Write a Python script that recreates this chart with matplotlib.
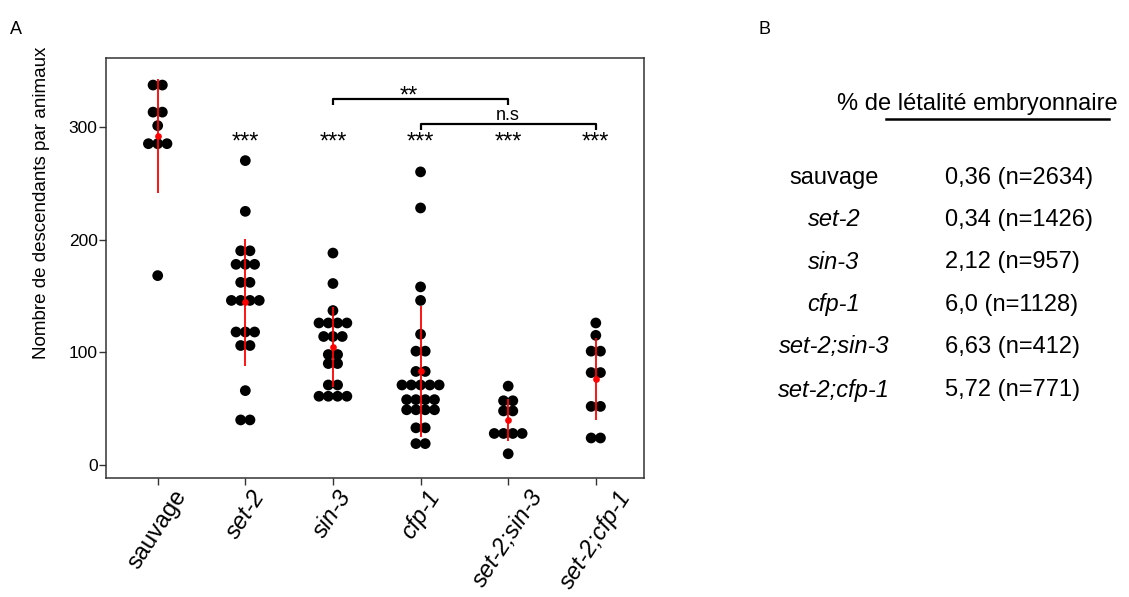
import numpy as np
import matplotlib
matplotlib.use("Agg")
import matplotlib.pyplot as plt

plt.rcParams['font.family'] = ['Liberation Sans', 'DejaVu Sans']

# ---------------- data ----------------
categories = ["sauvage", "set-2", "sin-3", "cfp-1", "set-2;sin-3", "set-2;cfp-1"]
sauvage = [337, 337, 313, 313, 301, 285, 285, 285, 168]
set2 = [270, 225, 190, 190, 178, 178, 178, 162, 162, 146, 146, 146, 146,
        118, 118, 118, 106, 106, 66, 40, 40]
sin3 = [188, 161, 137, 126, 126, 126, 126, 114, 114, 114, 98, 98, 90, 90,
        71, 71, 61, 61, 61, 61]
cfp1 = [260, 228, 158, 146, 116, 101, 101, 83, 83, 71, 71, 71, 71, 71,
        58, 58, 58, 58, 49, 49, 49, 49, 33, 33, 19, 19]
set2sin3 = [70, 57, 57, 48, 48, 28, 28, 28, 28, 10]
set2cfp1 = [126, 115, 101, 101, 82, 82, 52, 52, 24, 24]
series = [sauvage, set2, sin3, cfp1, set2sin3, set2cfp1]

stars = ["", "***", "***", "***", "***", "***"]
yticks = [0, 100, 200, 300]

table_labels = ["sauvage", "set-2", "sin-3", "cfp-1", "set-2;sin-3", "set-2;cfp-1"]
table_values = ["0,36 (n=2634)", "0,34 (n=1426)", "2,12 (n=957)",
                "6,0 (n=1128)", "6,63 (n=412)", "5,72 (n=771)"]
table_title = "% de létalité embryonnaire"

# ---------------- figure ----------------
W, H = 1129, 597
fig = plt.figure(figsize=(W / 100, H / 100), dpi=100)
ax = fig.add_axes([106 / W, 1 - 478 / H, (644 - 106) / W, (478 - 58) / H])

step = 0.106
for i, vals in enumerate(series):
    vals = np.asarray(vals, dtype=float)
    xs = np.zeros_like(vals)
    for u in np.unique(vals):
        idx = np.where(vals == u)[0]
        n = len(idx)
        xs[idx] = (np.arange(n) - (n - 1) / 2) * step
    ax.scatter(i + xs, vals, s=60, color='black', edgecolors='none', zorder=2)
    m = vals.mean()
    sd = vals.std(ddof=1)
    ax.errorbar([i], [m], yerr=[sd], fmt='o', color='red', ms=3.8,
                elinewidth=1.3, capsize=0, zorder=3)
    if stars[i]:
        ax.text(i, 286, stars[i], ha='center', va='center', fontsize=17)

# brackets
def bracket(x1, x2, y, drop, label, lx, ly, fs):
    ax.plot([x1, x1, x2, x2], [y - drop, y, y, y - drop], color='black',
            lw=1.6, zorder=4, solid_capstyle='butt', clip_on=False)
    ax.text(lx, ly, label, ha='center', va='center', fontsize=fs)

bracket(2, 4, 324.5, 5, "**", 2.87, 327, 17)
bracket(3, 5, 302.5, 5, "n.s", 4.0, 310, 13)

ax.set_xlim(-0.59, 5.55)
ax.set_ylim(-11.5, 361)
ax.set_yticks(yticks)
ax.set_yticklabels([str(v) for v in yticks], fontsize=12.5)
ax.set_xticks(range(len(categories)))
ax.set_xticklabels(categories, rotation=57, fontsize=17)
for lab in ax.get_xticklabels():
    if lab.get_text() != "sauvage":
        lab.set_fontstyle('italic')
ax.tick_params(axis='both', direction='out', length=5, width=1.0, color='#333333')
ax.tick_params(axis='x', pad=1)
ax.tick_params(axis='y', pad=1)
for sp in ax.spines.values():
    sp.set_linewidth(1.1)
    sp.set_color('#333333')
ax.set_ylabel("Nombre de descendants par animaux", fontsize=13.5)
ax.yaxis.set_label_coords(-0.105, (478 - 203) / (478 - 58))

# panel letters
fig.text(10 / W, 1 - 30 / H, "A", fontsize=13, ha='left', va='center')
fig.text(758 / W, 1 - 30 / H, "B", fontsize=13, ha='left', va='center')

# panel B table
fig.text(837 / W, 1 - 104 / H, table_title, fontsize=17, ha='left', va='center')
fig.add_artist(plt.Line2D([886 / W, 1109 / W], [1 - 119 / H, 1 - 119 / H],
                          color='black', lw=1.8, transform=fig.transFigure))
row_y = [178, 220, 262, 305, 347, 390]
for lab, val, yy in zip(table_labels, table_values, row_y):
    style = 'normal' if lab == "sauvage" else 'italic'
    fig.text(834 / W, 1 - yy / H, lab, fontsize=17, ha='center', va='center',
             fontstyle=style)
    fig.text(945 / W, 1 - yy / H, val, fontsize=17, ha='left', va='center')

fig.savefig("out.png", dpi=100)
